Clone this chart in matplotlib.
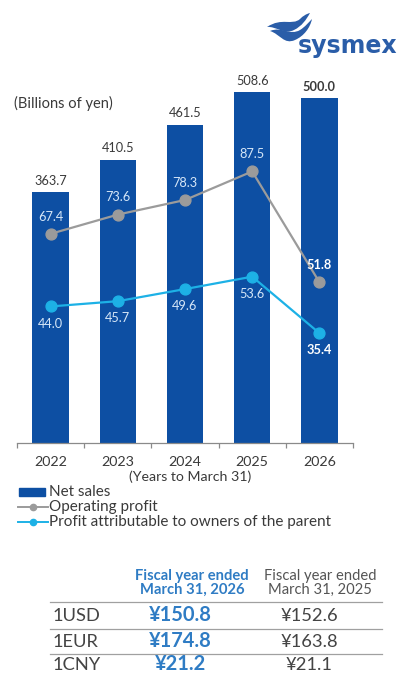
import matplotlib
matplotlib.use("Agg")
import matplotlib.pyplot as plt
from matplotlib.patches import Rectangle, PathPatch
from matplotlib.path import Path
from matplotlib.lines import Line2D
import numpy as np

plt.rcParams['font.family'] = ['Lato', 'DejaVu Sans']

# ---- data ----
years = ["2022", "2023", "2024", "2025", "2026"]
net_sales = [363.7, 410.5, 461.5, 508.6, 500.0]
operating_profit = [67.4, 73.6, 78.3, 87.5, 51.8]
profit_owners = [44.0, 45.7, 49.6, 53.6, 35.4]

legend_labels = ["Net sales", "Operating profit",
                 "Profit attributable to owners of the parent"]

fx_pairs = ["1USD", "1EUR", "1CNY"]
fx_2026 = [150.8, 174.8, 21.2]
fx_2025 = [152.6, 163.8, 21.1]
fx_headers = ["Fiscal year ended\nMarch 31, 2026", "Fiscal year ended\nMarch 31, 2025"]

# ---- styling ----
BAR_BLUE = "#0D4FA3"
GRAY = "#9B9B9B"
CYAN = "#1DB1E6"
TEXT = "#3A3A3A"
TABLE_BLUE = "#2F7CC4"
LOGO_BLUE = "#2A5DA8"

W, H = 397, 675
fig = plt.figure(figsize=(W / 100, H / 100), dpi=100)


def fx(x):
    return x / W


def fy(y):
    return 1 - y / H


# chart axes (pixel frame: x 17..353, y 43..443)
ax = fig.add_axes([fx(17), fy(443), (353 - 17) / W, (443 - 43) / H])
ax2 = ax.twinx()

bar_top = 580
ratio = 4.5
ax.set_ylim(0, bar_top)
ax2.set_ylim(0, bar_top / ratio)
x = np.arange(len(years))
ax.set_xlim(-0.5, len(years) - 0.5)

ax.bar(x, net_sales, width=0.54, color=BAR_BLUE, zorder=2)

LBL = 9.2
for i, v in enumerate(net_sales):
    bold = (i == len(years) - 1)
    ax.annotate(f"{v:.1f}", (x[i], v), xytext=(0, 4), textcoords="offset points",
                ha="center", va="bottom", fontsize=LBL, color=TEXT,
                fontweight="bold" if bold else "normal")

ax2.plot(x, operating_profit, color=GRAY, lw=1.6, marker="o", ms=7.8,
         markerfacecolor=GRAY, markeredgecolor=GRAY, zorder=3)
ax2.plot(x, profit_owners, color=CYAN, lw=1.6, marker="o", ms=7.8,
         markerfacecolor=CYAN, markeredgecolor=CYAN, zorder=3)

for i, v in enumerate(operating_profit):
    bold = (i == len(years) - 1)
    ax2.annotate(f"{v:.1f}", (x[i], v), xytext=(0, 8), textcoords="offset points",
                 ha="center", va="bottom", fontsize=LBL,
                 color="white" if bold else "#D5E6F7",
                 fontweight="bold" if bold else "normal")
for i, v in enumerate(profit_owners):
    bold = (i == len(years) - 1)
    ax2.annotate(f"{v:.1f}", (x[i], v), xytext=(0, -8), textcoords="offset points",
                 ha="center", va="top", fontsize=LBL,
                 color="white" if bold else "#D5E6F7",
                 fontweight="bold" if bold else "normal")

for a in (ax, ax2):
    for s in ("top", "right", "left"):
        a.spines[s].set_visible(False)
    a.set_yticks([])
ax.spines["bottom"].set_color("#8A8A8A")
ax.spines["bottom"].set_linewidth(0.9)
ax2.spines["bottom"].set_visible(False)

ax.set_xticks(x)
ax.set_xticklabels(years, fontsize=10.3, color=TEXT)
ax.tick_params(axis="x", which="major", length=0, pad=9.5)
ax.set_xticks(np.arange(-0.5, len(years)), minor=True)
ax.tick_params(axis="x", which="minor", length=3.5, width=0.9, color="#8A8A8A")

fig.text(fx(190), fy(477), "(Years to March 31)", ha="center", va="center",
         fontsize=10.2, color=TEXT)
fig.text(fx(14), fy(103), "(Billions of yen)", ha="left", va="center",
         fontsize=10.5, color=TEXT)

# ---- legend ----
fig.add_artist(Rectangle((fx(19), fy(496)), (45 - 19) / W, 8 / H,
                         transform=fig.transFigure, color=BAR_BLUE))
for yy, col in ((507, GRAY), (522, CYAN)):
    fig.add_artist(Line2D([fx(18), fx(48)], [fy(yy), fy(yy)], color=col, lw=1.4,
                          transform=fig.transFigure))
    fig.add_artist(Line2D([fx(33)], [fy(yy)], marker="o", ms=4.5, color=col,
                          transform=fig.transFigure))
for yy, lab in zip((492, 507, 522), legend_labels):
    fig.text(fx(49), fy(yy), lab, ha="left", va="center", fontsize=11, color=TEXT)

# ---- logo ----
C4 = Path.CURVE4
upper = [(267, 27), (282, 17), (292, 26), (300, 19),
         (303, 16), (306, 14), (310, 13),
         (306, 20), (302, 26), (294, 30),
         (284, 35), (276, 26), (267, 27), (267, 27)]
lower = [(270, 31), (282, 26), (290, 36), (300, 30),
         (305, 27), (309, 22), (312, 19),
         (310, 28), (304, 36), (295, 40),
         (284, 45), (280, 34), (270, 31), (270, 31)]
codes = [Path.MOVETO, C4, C4, C4, C4, C4, C4, C4, C4, C4, C4, C4, C4,
         Path.CLOSEPOLY]
for verts in (upper, lower):
    pv = [(fx(a), fy(b)) for a, b in verts]
    fig.add_artist(PathPatch(Path(pv, codes), transform=fig.transFigure,
                             facecolor=LOGO_BLUE, edgecolor="none"))
fig.text(fx(348), fy(46), "sysmex", ha="center", va="center", fontsize=17,
         fontweight="heavy", color=LOGO_BLUE, family="DejaVu Sans")

# ---- exchange-rate table ----
h1, h2 = 192, 320
v1, v2 = 180, 309
fig.text(fx(h1), fy(583), fx_headers[0], ha="center", va="center",
         fontsize=10.6, fontweight="bold", color=TABLE_BLUE, linespacing=1.0)
fig.text(fx(h2), fy(583), fx_headers[1], ha="center", va="center",
         fontsize=10.6, color="#555555", linespacing=1.0)
for yy in (602, 629, 654):
    fig.add_artist(Line2D([fx(50), fx(382)], [fy(yy), fy(yy)], color="#A0A0A0",
                          lw=0.9, transform=fig.transFigure))
for yy, pair, a26, a25 in zip((621, 647, 670), fx_pairs, fx_2026, fx_2025):
    fig.text(fx(53), fy(yy), pair, ha="left", va="baseline", fontsize=13.2,
             color="#444444")
    fig.text(fx(v1), fy(yy), f"¥{a26:.1f}", ha="center", va="baseline",
             fontsize=14.5, fontweight="bold", color=TABLE_BLUE)
    fig.text(fx(v2), fy(yy), f"¥{a25:.1f}", ha="center", va="baseline",
             fontsize=13.2, color="#444444")

fig.savefig("out.png", dpi=100, facecolor="white")
